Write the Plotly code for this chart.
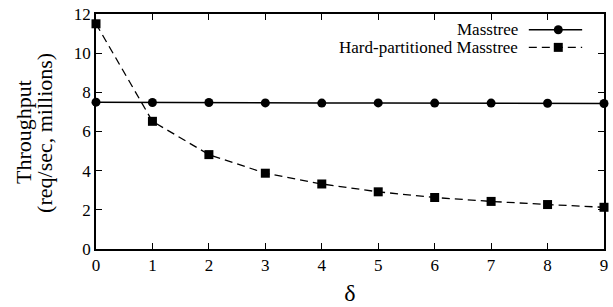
import plotly.graph_objects as go

delta = [0, 1, 2, 3, 4, 5, 6, 7, 8, 9]
masstree = [7.50, 7.48, 7.48, 7.46, 7.45, 7.46, 7.45, 7.45, 7.44, 7.43]
hard_partitioned = [11.5, 6.52, 4.82, 3.87, 3.32, 2.92, 2.63, 2.43, 2.27, 2.13]
series_names = ["Masstree", "Hard-partitioned Masstree"]
x_ticks = [0, 1, 2, 3, 4, 5, 6, 7, 8, 9]
y_ticks = [0, 2, 4, 6, 8, 10, 12]
y_title_lines = ["Throughput", "(req/sec, millions)"]

FONT = "Liberation Serif"

fig = go.Figure()
fig.add_trace(go.Scatter(
    x=delta, y=masstree, mode="lines+markers", name=series_names[0],
    line=dict(color="black", width=1.5),
    marker=dict(symbol="circle", size=9, color="black"),
    cliponaxis=False, showlegend=False))
fig.add_trace(go.Scatter(
    x=delta, y=hard_partitioned, mode="lines+markers", name=series_names[1],
    line=dict(color="black", width=1.3, dash="8px,5px"),
    marker=dict(symbol="square", size=9, color="black"),
    cliponaxis=False, showlegend=False))

axis_common = dict(
    showline=True, linecolor="black", linewidth=1.5, mirror="ticks",
    ticks="inside", ticklen=6, tickwidth=1, tickcolor="black",
    showgrid=False, zeroline=False, ticklabeloverflow="allow",
    tickfont=dict(family=FONT, size=17, color="black"),
)

fig.update_xaxes(range=[0, 9], tickvals=x_ticks,
                 title=dict(text="δ", font=dict(family=FONT, size=24, color="black"), standoff=10),
                 **axis_common)
fig.update_yaxes(range=[0, 12], tickvals=y_ticks, **axis_common)

# y-axis title as two tightly spaced rotated lines
for xp, line in zip([-0.1425, -0.1015], y_title_lines):
    fig.add_annotation(x=xp, y=0.496, xref="paper", yref="paper", text=line,
                       textangle=-90, showarrow=False, xanchor="center", yanchor="middle",
                       font=dict(family=FONT, size=22, color="black"))

# custom legend (text on the left, sample on the right)
rows = [(0.933, "solid", "circle"), (0.858, "dash", "rect")]
for (yp, dash, sym), name in zip(rows, series_names):
    fig.add_annotation(x=0.834, y=yp, xref="paper", yref="paper", text=name,
                       showarrow=False, xanchor="right", yanchor="middle",
                       font=dict(family=FONT, size=17, color="black"))
    fig.add_shape(type="line", xref="paper", yref="paper", x0=0.852, x1=0.957,
                  y0=yp, y1=yp, line=dict(color="black", width=1.4,
                                          dash="solid" if dash == "solid" else "8px,5px"))
    fig.add_shape(type=sym, xref="paper", yref="paper",
                  xsizemode="pixel", ysizemode="pixel", xanchor=0.910, yanchor=yp,
                  x0=-4.5, x1=4.5, y0=-4.5, y1=4.5,
                  fillcolor="black", line=dict(color="black", width=0))

fig.update_layout(
    width=613, height=307,
    margin=dict(l=95.5, r=5, t=9, b=58),
    paper_bgcolor="white", plot_bgcolor="white",
    font=dict(family=FONT, color="black"),
)

fig.write_html("out.html", config={"displayModeBar": False},
               post_script="document.body.style.margin='0';document.body.style.overflow='hidden';")
